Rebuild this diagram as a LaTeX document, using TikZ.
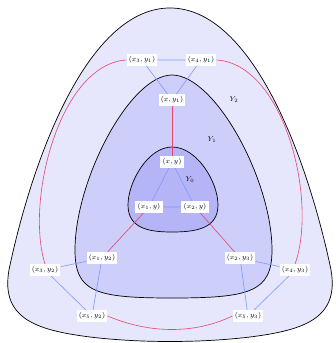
\documentclass[tikz,border=0pt]{standalone}
\usetikzlibrary{backgrounds}
\pgfdeclarelayer{edgelayer}
\pgfsetlayers{background,edgelayer,main}
\definecolor{regA}{RGB}{230,230,252}
\definecolor{regB}{RGB}{206,206,250}
\definecolor{regC}{RGB}{180,180,246}
\definecolor{bluel}{RGB}{125,155,250}
\definecolor{redl}{RGB}{228,70,110}
\tikzset{
  pt/.style={fill=white, inner sep=2.2pt, font=\scriptsize},
  region/.style={draw=black, line width=0.7pt},
  bl/.style={draw=bluel, line width=0.6pt},
  rl/.style={draw=redl, line width=0.6pt},
  lab/.style={font=\scriptsize}
}
\begin{document}
\begin{tikzpicture}[x=1pt,y=-1pt]
\useasboundingbox (0,0) rectangle (335,343);
\begin{pgfonlayer}{background}
\path[region, fill=regA] (170,8) .. controls (250,8) and (305,150) .. (330,265) .. controls (342,318) and (305,330) .. (250,337) .. controls (200,343) and (140,343) .. (90,337) .. controls (35,330) and (-2,318) .. (10,265) .. controls (35,150) and (90,8) .. (170,8) -- cycle;
\path[region, fill=regB] (172,75) .. controls (215,75) and (272,180) .. (272,250) .. controls (272,292) and (250,298) .. (172,298) .. controls (95,298) and (75,292) .. (75,250) .. controls (75,180) and (130,75) .. (172,75) -- cycle;
\path[region, fill=regC] (172,147) .. controls (197,147) and (218,182) .. (218,205) .. controls (218,229) and (195,232) .. (172,232) .. controls (150,232) and (128,229) .. (128,205) .. controls (128,182) and (148,147) .. (172,147) -- cycle;
\end{pgfonlayer}
\node[pt] (a1) at (142,60) {$(x_3,y_1)$};
\node[pt] (a2) at (201,60) {$(x_4,y_1)$};
\node[pt] (a0) at (172,100) {$(x,y_1)$};
\node[pt] (c0) at (172,162) {$(x,y)$};
\node[pt] (c1) at (149,207) {$(x_1,y)$};
\node[pt] (c2) at (195,207) {$(x_2,y)$};
\node[pt] (l0) at (102,258) {$(x_1,y_2)$};
\node[pt] (l1) at (45,270) {$(x_3,y_2)$};
\node[pt] (l2) at (92,316) {$(x_5,y_2)$};
\node[pt] (r0) at (240,258) {$(x_2,y_3)$};
\node[pt] (r1) at (295,270) {$(x_4,y_3)$};
\node[pt] (r2) at (248,316) {$(x_5,y_3)$};
\node[lab] (y2) at (234,100) {$Y_2$};
\node[lab] (y1) at (212,140) {$Y_1$};
\node[lab] (y0) at (190,180) {$Y_0$};
\begin{pgfonlayer}{edgelayer}
\draw[bl] (c0) -- (c1) -- (c2) -- (c0);
\draw[bl] (a1) -- (a2) -- (a0) -- (a1);
\draw[bl] (l0) -- (l1) -- (l2) -- (l0);
\draw[bl] (r0) -- (r1) -- (r2) -- (r0);
\draw[rl] (c0) -- (a0);
\draw[rl] (c1) -- (l0);
\draw[rl] (c2) -- (r0);
\draw[rl] (a1.west) .. controls (60,64) and (25,200) .. (l1.north);
\draw[rl] (a2.east) .. controls (284,64) and (318,200) .. (r1.north);
\draw[rl] (l2.east) .. controls (150,334) and (195,334) .. (r2.west);
\end{pgfonlayer}
\end{tikzpicture}
\end{document}
